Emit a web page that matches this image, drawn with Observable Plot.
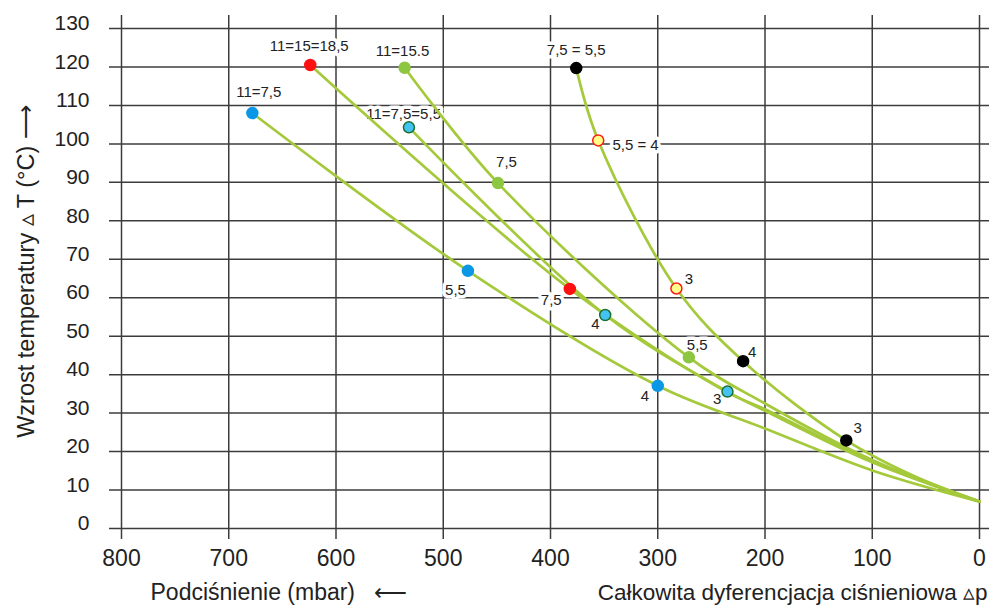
<!DOCTYPE html>
<html><head><meta charset="utf-8">
<script src="https://cdn.jsdelivr.net/npm/d3@7"></script>
<script src="https://cdn.jsdelivr.net/npm/@observablehq/plot@0.6"></script>
<style>body{margin:0;background:#fff;} svg{display:block}</style>
</head><body><div id="chart"></div>
<script>
// Axis ticks
const xTicks = [800, 700, 600, 500, 400, 300, 200, 100, 0];
const yTicks = [0, 10, 20, 30, 40, 50, 60, 70, 80, 90, 100, 110, 120, 130];

// Curves: [pressure (mbar), temperature rise (°C)]
const curveBlue  = [[678, 108], [477, 67], [300, 37.1], [200, 26], [100, 15.1], [0, 7]];
const curveRed   = [[624, 120.5], [382, 62.3], [235, 35.4], [200, 31], [100, 17.4], [0, 7]];
const curveCyan  = [[532, 104.3], [349, 55.5], [235, 35.6], [200, 30.6], [100, 17.2], [0, 7]];
const curveGreen = [[536, 119.8], [449, 89.8], [271, 44.5], [200, 32.5], [100, 17.8], [0, 7]];
const curveBlack = [[376, 119.7], [355.5, 100.9], [282.6, 62.4], [220.4, 43.5], [124.2, 22.9], [60, 13.5], [0, 7]];

// Marked points: [pressure, temperature, kind]
const markers = [
  [678, 108, "blue"], [477, 67, "blue"], [300, 37.1, "blue"],
  [624, 120.5, "red"], [382, 62.3, "red"],
  [532, 104.3, "cyan"], [349, 55.5, "cyan"], [235, 35.6, "cyan"],
  [536, 119.8, "green"], [449, 89.8, "green"], [271, 44.5, "green"],
  [376, 119.7, "black"], [220.4, 43.5, "black"], [124.2, 22.9, "black"],
  [355.5, 100.9, "yellow"], [282.6, 62.4, "yellow"]
];

// Point labels: [text, pressure, temperature]
const labels = [
  ["11=7,5", 672, 113.4],
  ["11=15=18,5", 625, 125.3],
  ["11=15.5", 538, 124.1],
  ["11=7,5=5,5", 537, 107.8],
  ["7,5 = 5,5", 376, 124.3],
  ["5,5 = 4", 320.7, 99.6],
  ["7,5", 441, 95.2],
  ["5,5", 488.6, 61.9],
  ["7,5", 399.3, 59.3],
  ["4", 358, 53.2],
  ["3", 271, 64.9],
  ["5,5", 263.2, 47.6],
  ["4", 312, 34.3],
  ["4", 212, 45.8],
  ["3", 244.6, 33.5],
  ["3", 113.5, 26.2]
];

const yTitle = "Wzrost temperatury \u25B5 T (°C) \u27F6";
const xTitleLeft = "Podciśnienie (mbar)\u00A0\u00A0\u00A0\u27F5";
const xTitleRight = "Całkowita dyferencjacja ciśnieniowa \u25B5p";

// styles
const curveColor = "#a4c93b";
const gridColor = "#3c3c3c";
const markerStyle = {
  blue:   {fill: "#0a98e6", stroke: "#0a98e6"},
  red:    {fill: "#ff1010", stroke: "#ff1010"},
  cyan:   {fill: "#43c3f2", stroke: "#1d6e32"},
  green:  {fill: "#8dc640", stroke: "#8dc640"},
  black:  {fill: "#000000", stroke: "#000000"},
  yellow: {fill: "#ffff8a", stroke: "#ff1a1a"}
};

const curves = [
  ...curveBlue.map(([x, y]) => ({x, y, s: "blue"})),
  ...curveRed.map(([x, y]) => ({x, y, s: "red"})),
  ...curveCyan.map(([x, y]) => ({x, y, s: "cyan"})),
  ...curveGreen.map(([x, y]) => ({x, y, s: "green"})),
  ...curveBlack.map(([x, y]) => ({x, y, s: "black"}))
];
const dots = markers.map(([x, y, k]) => ({x, y, k}));
const labs = labels.map(([t, x, y]) => ({t, x, y}));

const font = "'Liberation Sans', Arial, Helvetica, sans-serif";

const chart = Plot.plot({
  width: 1000,
  height: 613,
  marginLeft: 121,
  marginRight: 21,
  marginTop: 28,
  marginBottom: 85,
  x: {domain: [800, 0]},
  y: {domain: [0, 130]},
  color: {type: "identity"},
  style: {fontFamily: font, background: "#fff", color: "#222"},
  marks: [
    Plot.ruleX(xTicks, {x: d => d, stroke: gridColor, strokeWidth: 1.5, insetTop: -13, insetBottom: -11}),
    Plot.ruleY(yTicks, {y: d => d, stroke: gridColor, strokeWidth: 1.5, insetLeft: -12, insetRight: -10}),
    Plot.axisX({ticks: xTicks, tickSize: 0, tickPadding: 21, fontSize: 23, label: null, tickFormat: d => String(d), fill: "#222"}),
    Plot.axisY({ticks: yTicks, tickSize: 0, tickPadding: 32, fontSize: 21, label: null, dy: -5, tickFormat: d => String(d), fill: "#222"}),
    Plot.text(labs, {x: "x", y: "y", text: "t", fontSize: 15, fill: "#222", stroke: "white", strokeWidth: 7, paintOrder: "stroke"}),
    Plot.line(curves, {x: "x", y: "y", z: "s", curve: "catmull-rom", stroke: curveColor, strokeWidth: 2.7}),
    Plot.dot(dots, {x: "x", y: "y", r: 5.5, fill: d => markerStyle[d.k].fill, stroke: d => markerStyle[d.k].stroke, strokeWidth: 1.5}),
    Plot.text([yTitle], {frameAnchor: "left", textAnchor: "middle", dx: -95, dy: -7, rotate: -90, fontSize: 23.5, fill: "#222"}),
    Plot.text([xTitleLeft], {frameAnchor: "bottom-left", textAnchor: "start", dx: 29, dy: 71, fontSize: 23, fill: "#222"}),
    Plot.text([xTitleRight], {frameAnchor: "bottom-right", textAnchor: "end", dx: 8, dy: 71, fontSize: 22.5, fill: "#222"})
  ]
});
document.getElementById("chart").appendChild(chart);
</script>
</body></html>
